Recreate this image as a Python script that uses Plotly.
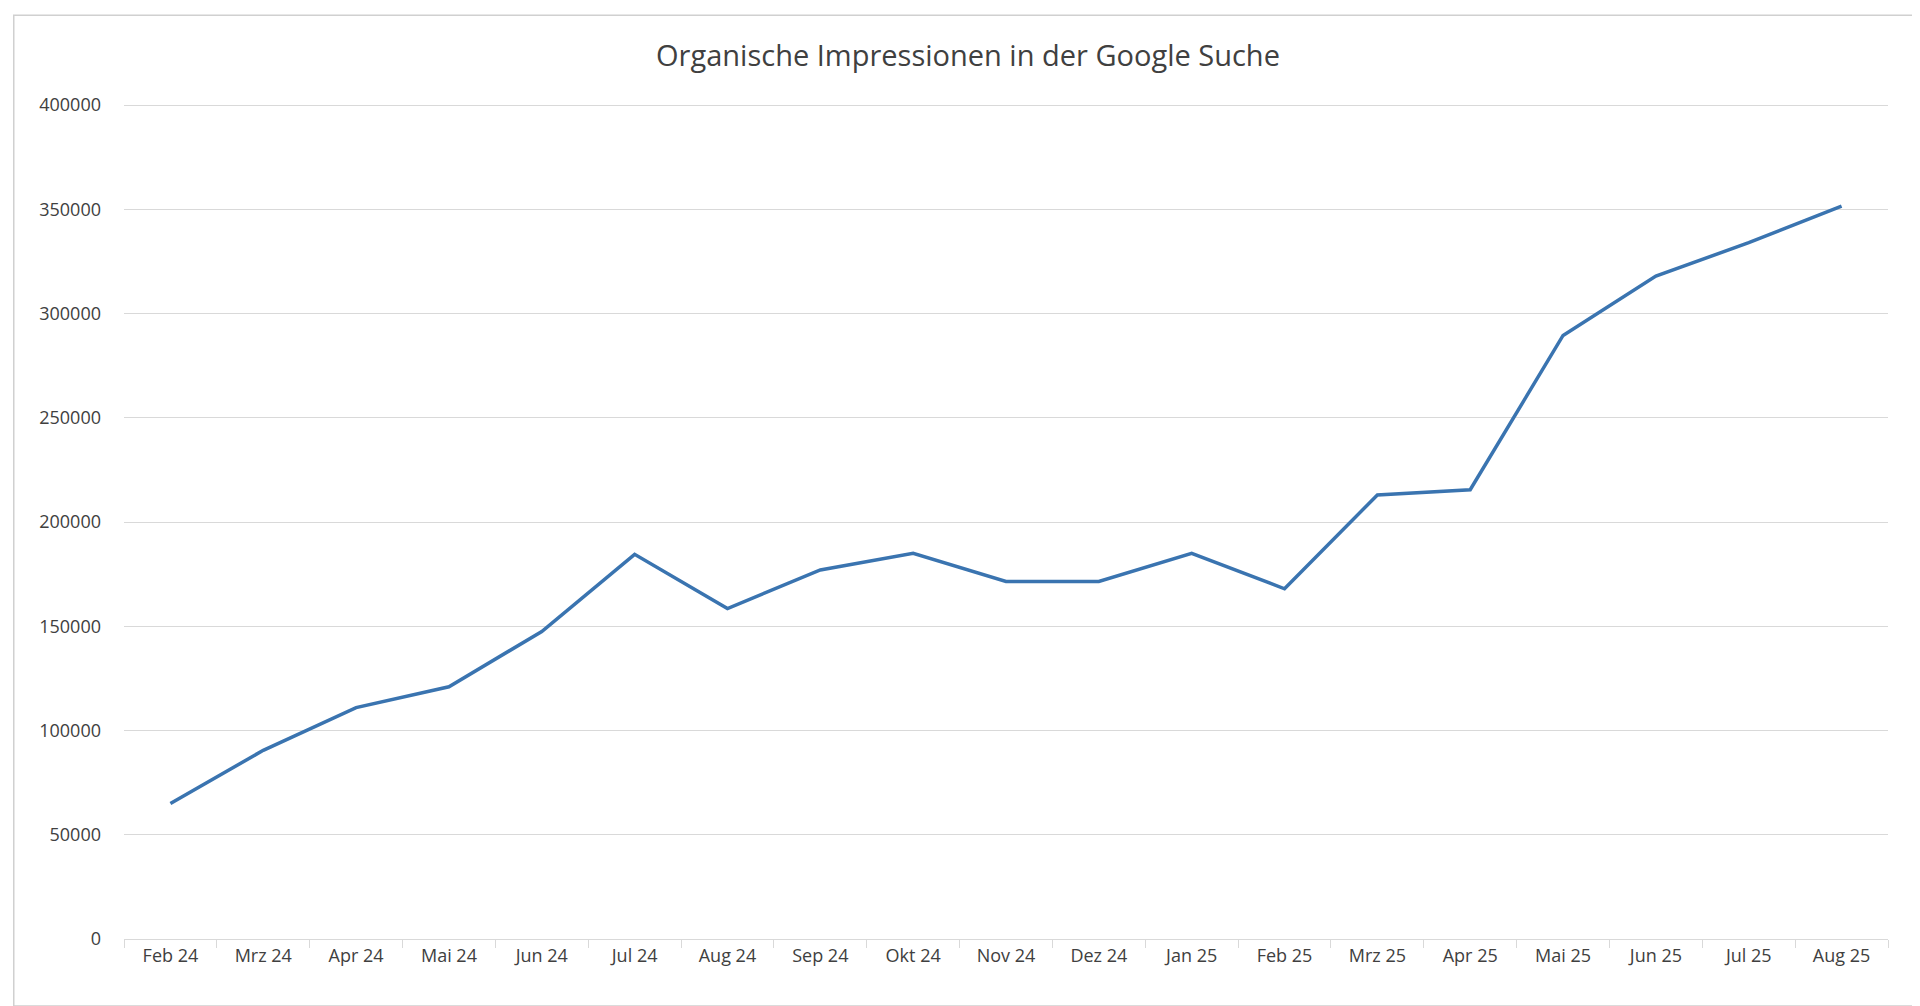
import plotly.graph_objects as go

months = ["Feb 24","Mrz 24","Apr 24","Mai 24","Jun 24","Jul 24","Aug 24","Sep 24","Okt 24","Nov 24",
          "Dez 24","Jan 25","Feb 25","Mrz 25","Apr 25","Mai 25","Jun 25","Jul 25","Aug 25"]
impressions = [65000, 90500, 111000, 121000, 147500, 184500, 158500, 177000, 185000, 171500,
               171500, 185000, 168000, 213000, 215500, 289500, 318000, 334000, 351500]

fig = go.Figure(go.Scatter(x=months, y=impressions, mode="lines",
                           line=dict(color="#3A74B0", width=3.5)))
fig.update_layout(
    width=1920, height=1006, paper_bgcolor="white", plot_bgcolor="white",
    margin=dict(l=116, r=40, t=95, b=75),
    title=dict(text="Organische Impressionen in der Google Suche", x=0.5, xanchor="center",
               y=0.952, yanchor="middle", font=dict(family="Open Sans", size=29, color="#404040")),
    font=dict(family="Open Sans", size=18, color="#404040"),
    showlegend=False,
    xaxis=dict(type="category", range=[-0.5, 18.5], showgrid=False, showline=True,
               linecolor="#D9D9D9", ticks="outside", ticklen=8, tickcolor="#D9D9D9",
               tickson="boundaries"),
    yaxis=dict(range=[0, 401000], dtick=50000, showgrid=True, gridcolor="#D9D9D9",
               zeroline=False, tickformat="d", ticklabelstandoff=22),
    shapes=[dict(type="rect", xref="paper", yref="paper", x0=-0.0625, x1=1.0187, y0=-0.08, y1=1.105,
                 line=dict(color="#D0D0D0", width=1.5))],
)
fig.write_html("out.html")
